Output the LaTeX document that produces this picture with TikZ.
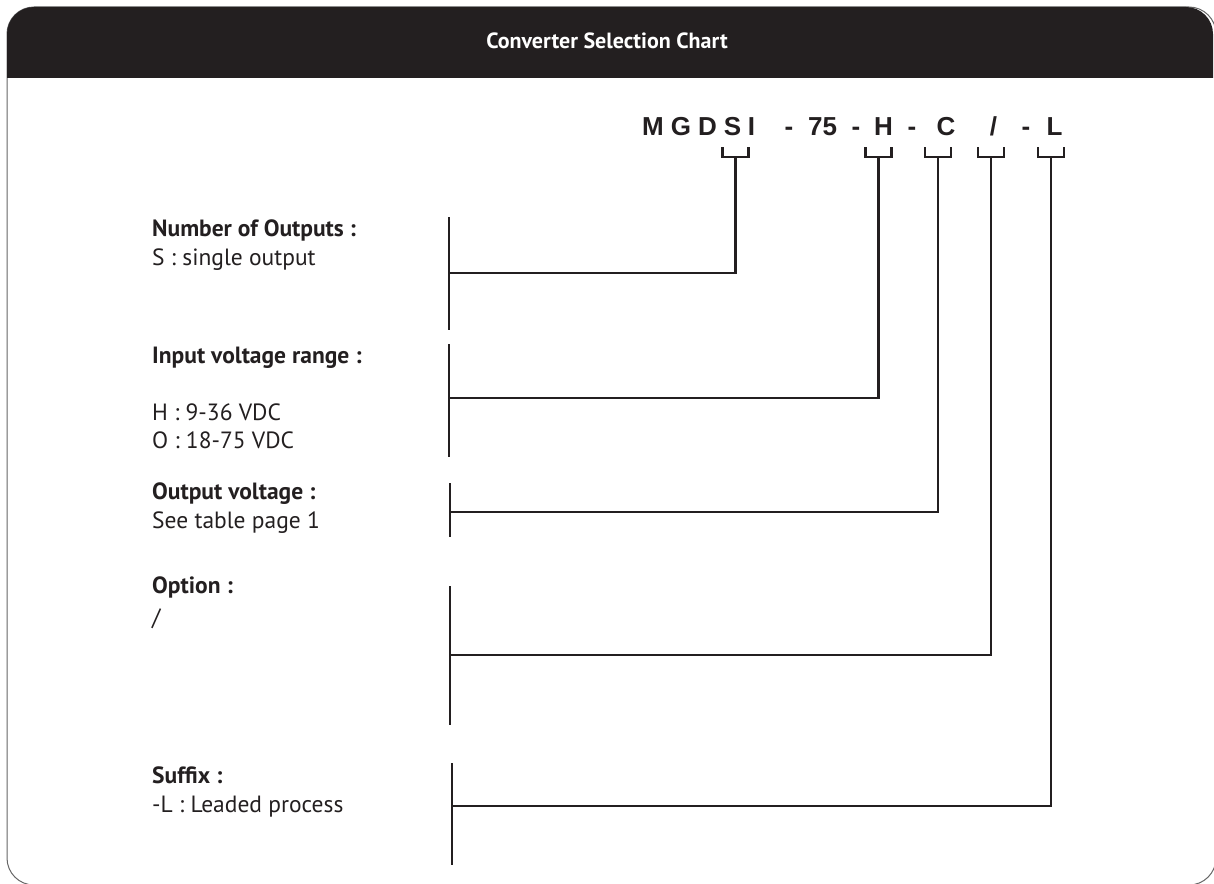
\documentclass[tikz,border=0pt]{standalone}
\usepackage{fontspec}
\setmainfont{PT Sans}
\newfontfamily\pnfont{Liberation Sans}
\definecolor{ink}{HTML}{231F20}
\tikzset{
  wire/.style={draw=ink, line width=2.6pt},
  brk/.style={draw=ink, line width=2.6pt},
  head/.style={anchor=base west, inner sep=0pt, text=ink, font=\bfseries\fontsize{23.5}{26}\selectfont},
  body/.style={anchor=base west, inner sep=0pt, text=ink, font=\fontsize{23.5}{26}\selectfont},
  pn/.style={anchor=base, inner sep=0pt, text=ink, font=\pnfont\bfseries\fontsize{26}{28}\selectfont},
}
\begin{document}
\begin{tikzpicture}[x=1pt,y=-1pt]
\useasboundingbox (0,0) rectangle (1214,883);
% frame
\begin{scope}
  \clip (0,0) rectangle (1214,883);
  \draw[gray!80!black, line width=1pt, rounded corners=27pt] (7,7) rectangle (1216,885);
\end{scope}
\begin{scope}
  \clip (0,0) rectangle (1214,77);
  \fill[ink, rounded corners=27pt] (7,7) rectangle (1213,130);
\end{scope}
\node[text=white, font=\bfseries\fontsize{22}{24}\selectfont] (title) at (607,41) {Converter Selection Chart};

% part number
\node[pn] (cM) at (653,135) {M};
\node[pn] (cG) at (681,135) {G};
\node[pn] (cD) at (707.5,135) {D};
\node[pn] (cS) at (732.5,135) {S};
\node[pn] (cI) at (751.5,135) {I};
\node[pn] (d1) at (789,135) {-};
\node[pn] (c75) at (822.5,135) {75};
\node[pn] (d2) at (856,135) {-};
\node[pn] (cH) at (883.5,135) {H};
\node[pn] (d3) at (912,135) {-};
\node[pn] (cC) at (946,135) {C};
\node[pn] (cSl) at (993.5,135) {/};
\node[pn] (d4) at (1026,135) {-};
\node[pn] (cL) at (1054.5,135) {L};

% bracket coordinates
\coordinate (bS) at (735.5,157);
\coordinate (bH) at (878.5,157);
\coordinate (bC) at (938,157);
\coordinate (bO) at (991,157);
\coordinate (bL) at (1051,157);
\foreach \b in {bS,bH,bC,bO,bL}{
  \draw[brk] ([shift={(-13pt,10pt)}]\b) -- ([xshift=-13pt]\b) -- ([xshift=13pt]\b) -- ([shift={(13pt,10pt)}]\b);
}

% bars
\coordinate (t1) at (449,217); \coordinate (e1) at (449,330); \coordinate (j1) at (449,273);
\coordinate (t2) at (449,344); \coordinate (e2) at (449,457); \coordinate (j2) at (449,398);
\coordinate (t3) at (450,483); \coordinate (e3) at (450,537); \coordinate (j3) at (450,512);
\coordinate (t4) at (450,586); \coordinate (e4) at (450,725); \coordinate (j4) at (450,655);
\coordinate (t5) at (452,763); \coordinate (e5) at (452,865); \coordinate (j5) at (452,806);
\draw[wire] (t1) -- (e1);
\draw[wire] (t2) -- (e2);
\draw[wire] (t3) -- (e3);
\draw[wire] (t4) -- (e4);
\draw[wire] (t5) -- (e5);

% connectors
\draw[wire] (bS) |- (j1);
\draw[wire] (bH) |- (j2);
\draw[wire] (bC) |- (j3);
\draw[wire] (bO) |- (j4);
\draw[wire] (bL) |- (j5);

% labels
\node[head] (h1) at (152,236) {Number of Outputs :};
\node[body] (l1) at (152,265) {S : single output};
\node[head] (h2) at (152,363) {Input voltage range :};
\node[body] (l2a) at (152,420) {H : 9-36 VDC};
\node[body] (l2b) at (152,448) {O : 18-75 VDC};
\node[head] (h3) at (152,499) {Output voltage :};
\node[body] (l3) at (152,528) {See table page 1};
\node[head] (h4) at (152,593) {Option :};
\node[body] (l4) at (152,625) {/};
\node[head] (h5) at (152,783) {Suffix :};
\node[body] (l5) at (152,812) {-L : Leaded process};
\end{tikzpicture}
\end{document}
